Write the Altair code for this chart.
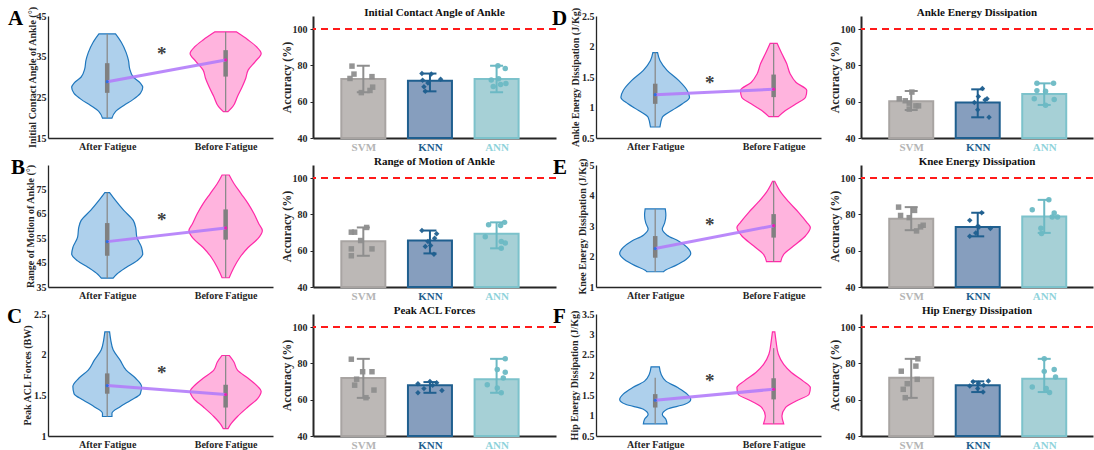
import altair as alt
import pandas as pd

FONT = "Liberation Serif"
INK = "#262626"

GROUPS = ["After Fatigue", "Before Fatigue"]
MODELS = ["SVM", "KNN", "ANN"]

# ---------------- violin outlines: value levels and half-widths (category units) ----------------
A_after_y = [40.6, 38.5, 36.0, 34.0, 32.0, 30.0, 28.5, 27.5, 26.0, 24.5, 23.0, 21.5, 19.9]
A_after_w = [0.07, 0.12, 0.16, 0.18, 0.19, 0.22, 0.28, 0.30, 0.28, 0.22, 0.14, 0.07, 0.04]
A_before_y = [41.1, 39.1, 37.45, 35.8, 33.8, 31.7, 29.7, 27.6, 25.2, 22.7, 21.5]
A_before_w = [0.09, 0.19, 0.26, 0.30, 0.25, 0.19, 0.17, 0.14, 0.10, 0.06, 0.02]

B_after_y = [73.7, 70.5, 66.4, 62.3, 59.5, 55.4, 51.2, 48.5, 45.7, 43.0, 40.2, 38.6]
B_after_w = [0.02, 0.07, 0.14, 0.22, 0.24, 0.25, 0.29, 0.30, 0.25, 0.16, 0.08, 0.05]
B_before_y = [80.9, 77.4, 73.3, 69.2, 65.0, 60.9, 58.1, 54.7, 51.2, 47.1, 43.0, 38.8]
B_before_w = [0.03, 0.07, 0.13, 0.19, 0.24, 0.28, 0.31, 0.27, 0.19, 0.12, 0.07, 0.03]

C_after_y = [2.28, 2.18, 2.06, 1.93, 1.81, 1.71, 1.61, 1.52, 1.44, 1.36, 1.28, 1.24]
C_after_w = [0.02, 0.03, 0.05, 0.11, 0.16, 0.24, 0.29, 0.28, 0.20, 0.11, 0.04, 0.04]
C_before_y = [1.99, 1.91, 1.81, 1.71, 1.61, 1.55, 1.46, 1.36, 1.24, 1.14, 1.09]
C_before_w = [0.03, 0.07, 0.10, 0.19, 0.27, 0.30, 0.27, 0.19, 0.10, 0.04, 0.02]

D_after_y = [1.90, 1.77, 1.61, 1.44, 1.28, 1.17, 1.06, 0.95, 0.84, 0.68]
D_after_w = [0.02, 0.04, 0.10, 0.20, 0.27, 0.29, 0.23, 0.14, 0.06, 0.04]
D_before_y = [2.05, 1.88, 1.72, 1.55, 1.41, 1.28, 1.17, 1.06, 0.95, 0.85]
D_before_w = [0.03, 0.07, 0.11, 0.14, 0.19, 0.28, 0.27, 0.19, 0.10, 0.04]

E_after_y = [3.56, 3.35, 3.10, 2.90, 2.70, 2.50, 2.30, 2.10, 1.90, 1.70, 1.55, 1.50]
E_after_w = [0.085, 0.09, 0.08, 0.06, 0.10, 0.20, 0.27, 0.30, 0.26, 0.17, 0.085, 0.07]
E_before_y = [4.46, 4.11, 3.78, 3.45, 3.12, 2.95, 2.68, 2.35, 2.07, 1.83]
E_before_w = [0.01, 0.06, 0.13, 0.21, 0.28, 0.31, 0.27, 0.17, 0.085, 0.06]

F_after_y = [2.20, 2.02, 1.85, 1.69, 1.53, 1.40, 1.28, 1.16, 1.03, 0.91, 0.80]
F_after_w = [0.035, 0.05, 0.09, 0.19, 0.27, 0.30, 0.25, 0.10, 0.06, 0.09, 0.10]
F_before_y = [3.06, 2.84, 2.51, 2.26, 2.06, 1.85, 1.69, 1.53, 1.36, 1.20, 0.99, 0.80]
F_before_w = [0.01, 0.02, 0.04, 0.085, 0.15, 0.25, 0.31, 0.30, 0.19, 0.10, 0.07, 0.085]

# box (q1, q3), whisker (min, max), mean per group [After, Before]; star height
A_box = [(26.1, 33.4), (30.1, 36.6)]; A_whisk = [(19.9, 40.6), (21.5, 41.1)]; A_mean = [28.85, 34.2]; A_star = 36.6
B_box = [(47.8, 61.2), (54.4, 66.8)]; B_whisk = [(38.6, 73.7), (38.8, 80.9)]; B_mean = [53.6, 59.2]; B_star = 63.9
C_box = [(1.52, 1.77), (1.35, 1.63)]; C_whisk = [(1.24, 2.28), (1.09, 1.99)]; C_mean = [1.62, 1.51]; C_star = 1.82
D_box = [(1.06, 1.39), (1.17, 1.54)]; D_whisk = [(0.68, 1.90), (0.85, 2.05)]; D_mean = [1.21, 1.30]; D_star = 1.47
E_box = [(1.96, 2.67), (2.62, 3.39)]; E_whisk = [(1.50, 3.56), (1.83, 4.46)]; E_mean = [2.26, 3.01]; E_star = 3.15
F_box = [(1.20, 1.53), (1.40, 1.92)]; F_whisk = [(0.80, 1.93), (0.80, 2.66)]; F_mean = [1.38, 1.65]; F_star = 1.95

# ---------------- accuracy bars: mean, error low/high, individual folds (offset, value) ----------------
A_acc = [72.5, 71.6, 72.5]; A_lo = [65.2, 65.7, 65.2]; A_hi = [79.8, 75.5, 79.8]
A_svm = [(-0.17, 79.6), (-0.14, 75.2), (-0.20, 72.8), (0.13, 73.8), (0.14, 68.0), (0.10, 66.2), (-0.03, 65.0)]
A_knn = [(-0.12, 75.5), (0.02, 75.2), (-0.11, 71.8), (0.16, 72.4), (-0.09, 68.2), (-0.03, 70.3), (-0.07, 65.8)]
A_ann = [(0.02, 79.8), (0.13, 78.3), (0.03, 72.6), (-0.08, 72.0), (-0.05, 68.4), (0.14, 70.0), (0.06, 69.5)]

B_acc = [65.2, 65.6, 69.3]; B_lo = [57.2, 58.5, 61.3]; B_hi = [72.8, 71.1, 75.6]
B_svm = [(-0.18, 70.2), (-0.13, 70.2), (-0.04, 65.6), (-0.18, 61.0), (0.13, 61.0), (-0.18, 57.2), (0.05, 72.8)]
B_knn = [(-0.12, 71.1), (0.10, 69.3), (0.07, 66.9), (-0.07, 62.3), (0.01, 62.9), (0.06, 58.1), (-0.03, 65.0)]
B_ann = [(-0.12, 74.3), (0.06, 73.9), (0.12, 75.6), (-0.17, 67.7), (0.07, 65.1), (0.13, 64.2), (0.07, 61.3)]

C_acc = [71.9, 67.9, 71.2]; C_lo = [61.0, 63.8, 63.8]; C_hi = [82.5, 69.7, 82.5]
C_svm = [(-0.18, 82.3), (-0.01, 75.4), (0.13, 75.4), (-0.10, 71.3), (-0.13, 68.0), (0.16, 65.3), (0.04, 61.1)]
C_knn = [(-0.18, 68.8), (-0.18, 63.8), (0.00, 70.0), (0.10, 69.3), (0.18, 65.1), (0.04, 67.9), (-0.09, 66.1)]
C_ann = [(0.13, 82.5), (0.01, 76.6), (0.13, 75.1), (0.10, 71.9), (-0.14, 68.2), (0.01, 66.4), (0.07, 63.8)]

D_acc = [60.3, 59.6, 64.2]; D_lo = [55.4, 51.4, 58.2]; D_hi = [65.9, 66.8, 70.1]
D_svm = [(-0.18, 61.6), (-0.09, 60.5), (-0.03, 59.2), (0.07, 57.7), (-0.03, 55.9), (0.11, 57.7), (0.01, 65.3)]
D_knn = [(0.07, 67.3), (0.01, 62.8), (0.14, 61.6), (-0.05, 59.6), (0.00, 55.5), (0.17, 51.4), (0.11, 61.0)]
D_ann = [(-0.11, 70.1), (0.14, 70.1), (-0.11, 66.1), (0.02, 65.7), (-0.15, 61.6), (0.15, 61.2), (0.02, 58.0)]

E_acc = [77.6, 73.1, 78.9]; E_lo = [71.3, 67.9, 69.8]; E_hi = [84.0, 80.9, 88.0]
E_svm = [(-0.19, 84.0), (0.05, 82.2), (-0.16, 79.4), (-0.03, 78.2), (0.18, 74.0), (0.14, 73.1), (0.08, 70.9)]
E_knn = [(0.06, 80.9), (-0.12, 76.7), (0.00, 73.4), (0.19, 72.2), (-0.03, 69.8), (-0.12, 68.0), (0.02, 73.0)]
E_ann = [(0.07, 88.0), (-0.18, 82.5), (0.15, 80.7), (0.12, 78.5), (0.20, 78.5), (-0.05, 72.4), (-0.04, 69.5)]

F_acc = [72.1, 67.9, 71.6]; F_lo = [61.0, 64.2, 64.2]; F_hi = [82.5, 70.1, 82.5]
F_svm = [(0.10, 82.5), (0.07, 78.5), (-0.15, 75.7), (-0.06, 68.8), (0.09, 71.2), (-0.12, 65.7), (-0.09, 61.1)]
F_knn = [(-0.07, 69.9), (0.01, 69.0), (0.16, 70.3), (0.09, 68.0), (-0.12, 67.6), (0.08, 64.2), (0.00, 66.2)]
F_ann = [(0.00, 82.5), (0.00, 75.6), (0.15, 76.6), (0.17, 72.5), (-0.18, 67.0), (0.03, 66.2), (0.08, 64.0)]

# ---------------- styles ----------------
V_FILL = ["#aacdeb", "#ffb0dc"]
V_EDGE = ["#1f77bd", "#ff2aa8"]
V_DOT = ["#2f6fe0", "#e81fb0"]
B_FILL = ["#bcb8b6", "#869ebe", "#a6d0d6"]
B_EDGE = ["#a8a4a2", "#1f5f8f", "#7cc2cb"]
B_PT = ["#8e8e8e", "#1f5f8f", "#6cb9c4"]
B_LAB = ["#b4b4b4", "#1f5f8f", "#8fd3db"]
SHAPES = ["square", "diamond", "circle"]

VH = 122
WV = 225


def violin_panel(letter, ldx, ytitle, title_x, ydom, yticks, prof, box, whisk, mean, star):
    xs = alt.Scale(domain=[0.5, 2.4], nice=False, zero=False)
    ys = alt.Scale(domain=ydom, nice=False, zero=False)
    lab = "datum.value == 1 ? '%s' : '%s'" % (GROUPS[0], GROUPS[1])
    xaxis = alt.Axis(values=[1, 2], labelExpr=lab, title=None, labelFontSize=10,
                     domainWidth=1.3, ticks=False, labelPadding=3, labelOverlap=False)
    yaxis = alt.Axis(values=yticks, title=ytitle, format=".4~g", titleFontSize=10,
                     domainWidth=1.3, ticks=False, labelPadding=2,
                     titleX=title_x, titleY=VH / 2, titleBaseline="middle", titleAngle=270,
                     labelOverlap=False)
    layers = []
    for i, (yy, ww) in enumerate(prof):
        p = i + 1
        df = pd.DataFrame({"y": yy, "lo": [p - w for w in ww], "hi": [p + w for w in ww]})
        layers.append(
            alt.Chart(df).mark_area(orient="horizontal", interpolate="monotone", fill=V_FILL[i],
                                    stroke=V_EDGE[i], strokeWidth=1.2, fillOpacity=0.95)
            .encode(x=alt.X("lo:Q", scale=xs, axis=xaxis),
                    x2="hi:Q",
                    y=alt.Y("y:Q", scale=ys, axis=yaxis))
        )
    stats = pd.DataFrame({
        "pos": [1, 2],
        "wlo": [w[0] for w in whisk], "whi": [w[1] for w in whisk],
        "q1": [b[0] for b in box], "q3": [b[1] for b in box],
        "m": mean, "grp": GROUPS,
    })
    layers.append(alt.Chart(stats).mark_rule(color="#8a8a8a", strokeWidth=1.3).encode(
        x=alt.X("pos:Q", axis=xaxis), y=alt.Y("wlo:Q", axis=yaxis), y2="whi:Q"))
    layers.append(alt.Chart(stats).mark_rule(color="#808080", strokeWidth=4.5).encode(
        x=alt.X("pos:Q", axis=xaxis), y=alt.Y("q1:Q", axis=yaxis), y2="q3:Q"))
    layers.append(alt.Chart(stats).mark_line(color="#b27cfa", strokeWidth=3, opacity=0.9).encode(
        x=alt.X("pos:Q", axis=xaxis), y=alt.Y("m:Q", axis=yaxis)))
    for i in range(2):
        layers.append(alt.Chart(stats.iloc[[i]]).mark_point(filled=True, size=10, color=V_DOT[i], opacity=1).encode(
            x=alt.X("pos:Q", axis=xaxis), y=alt.Y("m:Q", axis=yaxis)))
    sdf = pd.DataFrame({"x": [1.46], "y": [star], "t": ["*"]})
    layers.append(alt.Chart(sdf).mark_text(font=FONT, fontSize=19, fontWeight="bold", color="#404040",
                                           baseline="middle", dy=4).encode(
        x=alt.X("x:Q", axis=xaxis), y=alt.Y("y:Q", axis=yaxis), text="t:N"))
    ldf = pd.DataFrame({"t": [letter]})
    layers.append(alt.Chart(ldf).mark_text(font=FONT, fontSize=21, fontWeight="bold", color="#000000",
                                           align="left", baseline="alphabetic").encode(
        x=alt.value(ldx), y=alt.value(9), text="t:N"))
    return alt.layer(*layers).properties(width=WV, height=VH)


def bar_panel(title, acc, lo, hi, pts, width, xmax):
    xs = alt.Scale(domain=[0.32, xmax], nice=False, zero=False)
    ys = alt.Scale(domain=[40, 107.2], nice=False, zero=False)
    lab = "[''," + ",".join("'%s'" % m for m in MODELS) + "][datum.value]"
    lab_color = {"condition": [{"test": "datum.value == 1", "value": B_LAB[0]},
                               {"test": "datum.value == 2", "value": B_LAB[1]}],
                 "value": B_LAB[2]}
    xaxis = alt.Axis(values=[1, 2, 3], labelExpr=lab, title=None, labelFontSize=11,
                     labelColor=lab_color, domainWidth=2, ticks=False, labelPadding=3,
                     labelOverlap=False)
    yaxis = alt.Axis(values=[40, 60, 80, 100], title="Accuracy (%)", titleFontSize=12,
                     domainWidth=2, tickSize=3, labelPadding=3,
                     titleX=-27, titleY=VH / 2, titleBaseline="middle", titleAngle=270,
                     labelOverlap=False)
    layers = []
    for i in range(3):
        p = i + 1
        df = pd.DataFrame({"pos": [p], "acc": [acc[i]], "lo": [lo[i]], "hi": [hi[i]]})
        layers.append(alt.Chart(df).mark_bar(size=44, fill=B_FILL[i], stroke=B_EDGE[i], strokeWidth=2).encode(
            x=alt.X("pos:Q", scale=xs, axis=xaxis),
            y=alt.Y("acc:Q", scale=ys, axis=yaxis),
            y2=alt.datum(40)))
    for i in range(3):
        p = i + 1
        df = pd.DataFrame({"pos": [p], "acc": [acc[i]], "lo": [lo[i]], "hi": [hi[i]]})
        layers.append(alt.Chart(df).mark_rule(color=B_PT[i], strokeWidth=2).encode(
            x=alt.X("pos:Q", axis=xaxis), y=alt.Y("lo:Q", axis=yaxis), y2="hi:Q"))
        for f in ["lo", "hi"]:
            layers.append(alt.Chart(df).mark_tick(color=B_PT[i], orient="horizontal", size=13,
                                                  thickness=2, opacity=1).encode(
                x=alt.X("pos:Q", axis=xaxis), y=alt.Y(f + ":Q", axis=yaxis)))
        pdf = pd.DataFrame({"x": [p + d for d, v in pts[i]], "v": [v for d, v in pts[i]]})
        layers.append(alt.Chart(pdf).mark_point(shape=SHAPES[i], filled=True, size=30, color=B_PT[i],
                                                opacity=0.95).encode(
            x=alt.X("x:Q", axis=xaxis), y=alt.Y("v:Q", axis=yaxis)))
    layers.append(alt.Chart(pd.DataFrame({"r": [100]})).mark_rule(
        color="#ff1a1a", strokeDash=[7, 5], strokeWidth=2).encode(y=alt.Y("r:Q", axis=yaxis)))
    return alt.layer(*layers).properties(
        width=width, height=VH,
        title=alt.Title(title, offset=-2))


vA = violin_panel("A", -40, "Initial Contact Angle of Ankle (°)", -16, [15, 45], [15, 25, 35, 45],
                  [(A_after_y, A_after_w), (A_before_y, A_before_w)], A_box, A_whisk, A_mean, A_star)
vB = violin_panel("B", -37, "Range of Motion of Ankle (°)", -18, [35, 85], [35, 45, 55, 65, 75],
                  [(B_after_y, B_after_w), (B_before_y, B_before_w)], B_box, B_whisk, B_mean, B_star)
vC = violin_panel("C", -41, "Peak ACL Forces (BW)", -21, [1, 2.5], [1, 1.5, 2, 2.5],
                  [(C_after_y, C_after_w), (C_before_y, C_before_w)], C_box, C_whisk, C_mean, C_star)
vD = violin_panel("D", -44, "Ankle Energy Dissipation (J/Kg)", -21, [0.5, 2.5], [0.5, 1, 1.5, 2, 2.5],
                  [(D_after_y, D_after_w), (D_before_y, D_before_w)], D_box, D_whisk, D_mean, D_star)
vE = violin_panel("E", -43, "Knee Energy Dissipation (J/Kg)", -14, [1, 5], [1, 2, 3, 4, 5],
                  [(E_after_y, E_after_w), (E_before_y, E_before_w)], E_box, E_whisk, E_mean, E_star)
vF = violin_panel("F", -43, "Hip Energy Dissipation (J/Kg)", -22, [0.5, 3.5], [0.5, 1, 1.5, 2, 2.5, 3, 3.5],
                  [(F_after_y, F_after_w), (F_before_y, F_before_w)], F_box, F_whisk, F_mean, F_star)

W1, W3 = 243, 232
bA = bar_panel("Initial Contact Angle of Ankle", A_acc, A_lo, A_hi, [A_svm, A_knn, A_ann], W1, 0.32 + W1 / 69.5)
bB = bar_panel("Range of Motion of Ankle", B_acc, B_lo, B_hi, [B_svm, B_knn, B_ann], W1, 0.32 + W1 / 69.5)
bC = bar_panel("Peak ACL Forces", C_acc, C_lo, C_hi, [C_svm, C_knn, C_ann], W1, 0.32 + W1 / 69.5)
bD = bar_panel("Ankle Energy Dissipation", D_acc, D_lo, D_hi, [D_svm, D_knn, D_ann], W3, 0.32 + W3 / 69.5)
bE = bar_panel("Knee Energy Dissipation", E_acc, E_lo, E_hi, [E_svm, E_knn, E_ann], W3, 0.32 + W3 / 69.5)
bF = bar_panel("Hip Energy Dissipation", F_acc, F_lo, F_hi, [F_svm, F_knn, F_ann], W3, 0.32 + W3 / 69.5)

chart = alt.concat(vA, bA, vD, bD, vB, bB, vE, bE, vC, bC, vF, bF,
                   columns=4, spacing={"row": 27, "column": 40}, bounds="flush", align="each"
                   ).properties(
    padding={"left": 7, "top": 5, "right": 0, "bottom": 0},
    background="white",
).configure_view(stroke=None).configure_axis(
    labelFont=FONT, titleFont=FONT, labelFontWeight="bold", titleFontWeight="bold",
    labelColor=INK, titleColor=INK, domainColor=INK, tickColor=INK, grid=False,
    labelFontSize=10, labelOverlap=False,
).configure_title(font=FONT, fontSize=11, fontWeight="bold", color="#111111", anchor="middle")

chart.save("out.html", embed_options={"renderer": "svg", "actions": False})
